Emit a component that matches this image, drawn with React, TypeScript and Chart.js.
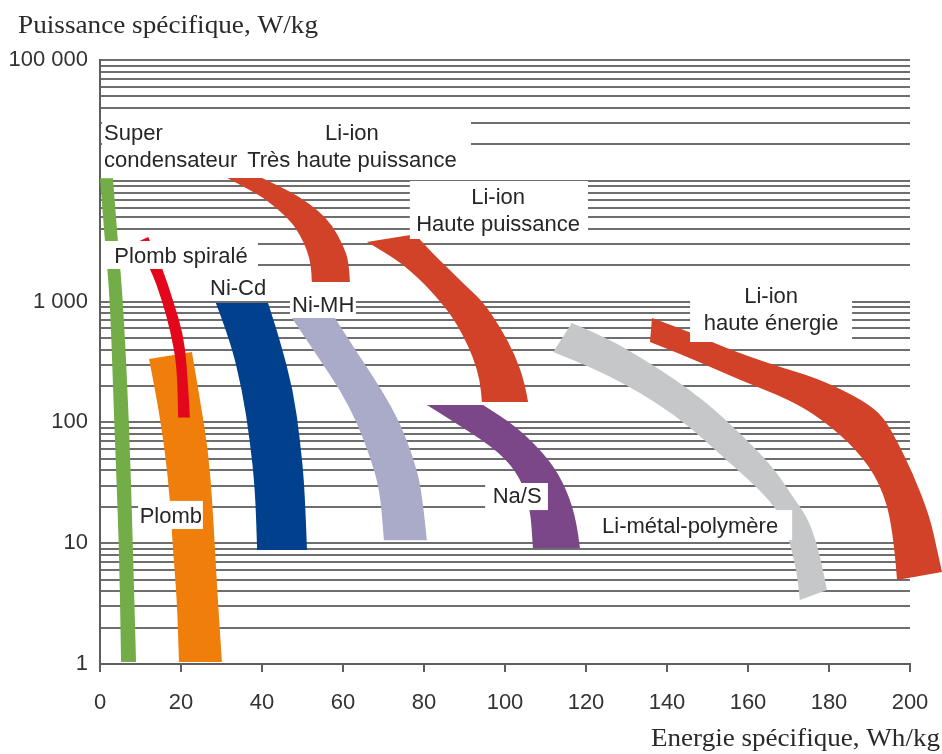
import React, { useEffect, useRef } from 'react';
import { Chart, registerables } from 'chart.js';

Chart.register(...registerables);

// ---------- axes ----------
const xTickValues = [0, 20, 40, 60, 80, 100, 120, 140, 160, 180, 200];
const yLabelValues = [1, 10, 100, 1000, 100000];
const yLabelTexts = ['1', '10', '100', '1 000', '100 000'];
const yDecades = [1, 10, 100, 1000, 10000];
const yMultipliers = [1, 2, 3, 4, 5, 6, 7, 8, 9];
const yAxisTitle = 'Puissance spécifique, W/kg';
const xAxisTitle = 'Energie spécifique, Wh/kg';

// ---------- bands: [Wh/kg, W/kg], edge A then edge B (outline order) ----------
const superCondA = [[0, 10500], [1.2, 3200], [2.5, 1000], [3.5, 100], [4.7, 10], [5.2, 1.04]];
const superCondB = [[8.9, 1.04], [8.1, 10], [7.2, 100], [5.7, 1000], [4.4, 3200], [3.2, 10500]];

const plombA = [[12.1, 335], [14.1, 153], [16.0, 59], [17.3, 22.8], [18.0, 8.8], [19.0, 3.39], [19.5, 1.04]];
const plombB = [[30.1, 1.04], [29.1, 3.39], [28.4, 8.8], [27.7, 22.8], [26.7, 59], [24.7, 153], [22.7, 383]];

const plombSpiraleA = [[9.1, 3100], [12.6, 1830], [15.3, 1030], [17.5, 550], [19.0, 290], [19.3, 110]];
const plombSpiraleB = [[22.2, 110], [21.5, 290], [20.5, 550], [18.0, 1030], [15.6, 1830], [11.9, 3430]];

const niCdA = [[28.6, 973], [32.1, 481], [35.1, 185], [37.0, 71.5], [38.3, 27.6], [38.8, 8.8]];
const niCdB = [[51.1, 8.8], [50.6, 27.6], [49.4, 71.5], [47.7, 185], [44.4, 481], [41.5, 973]];

const niMhA = [[47.4, 731], [53.8, 348], [59.3, 185], [63.5, 98.9], [66.7, 51.8], [69.1, 27.6], [70.1, 10.6]];
const niMhB = [[80.7, 10.6], [79.5, 27.6], [77.3, 51.8], [74.1, 98.9], [69.6, 185], [64.2, 348], [58.0, 731]];

const liIonTHPA = [[31.4, 10550], [37.0, 8400], [41.2, 6940], [46.9, 4730], [49.4, 3555], [51.1, 2675], [52.1, 2010], [52.3, 1452]];
const liIonTHPB = [[61.7, 1452], [61.5, 2128], [60.0, 2936], [57.3, 4305], [53.8, 5730], [49.4, 7300], [44.4, 9000], [40.0, 10550]];

const liIonHPA = [[65.9, 3115], [72.8, 2296], [78.3, 1599], [81.5, 1248], [86.4, 805], [89.6, 529], [92.1, 348], [93.8, 224], [94.3, 147.6]];
const liIonHPB = [[105.7, 147.6], [104.9, 212], [102.5, 361], [98.8, 617], [94.6, 993], [90.1, 1371], [86.4, 1827], [82.0, 2525], [77.8, 3617]];

const naSA = [[80.7, 139], [90.6, 86.5], [98.8, 55.8], [103.7, 35.3], [106.2, 19.9], [106.9, 9.12]];
const naSB = [[118.5, 9.12], [117.8, 14.7], [115.3, 27.6], [111.1, 48.9], [103.0, 91.6], [94.6, 139]];

const liMetalA = [[116.5, 665], [125.2, 500], [133.3, 348], [141.5, 233], [149.9, 145], [158.0, 81.7], [166.2, 42.8], [171.1, 24.1], [174.6, 16.5], [177.0, 10.0], [178.5, 6.0], [179.5, 4.1]];
const liMetalB = [[172.8, 3.39], [172.3, 5.25], [170.4, 10.0], [167.9, 17.8], [162.2, 29.2], [153.8, 51.7], [145.7, 91.6], [137.5, 145], [129.1, 212], [121.0, 288], [111.9, 383]];

const liIonHEA = [[136.3, 731], [145.7, 560], [153.8, 421], [166.2, 299], [177.0, 233], [186.9, 162], [192.6, 120], [195.8, 81.7], [200.7, 38.1], [204.9, 16.5], [206.7, 8.79], [207.9, 5.78]];
const liIonHEB = [[196.8, 4.96], [195.8, 13.6], [192.6, 31.5], [186.9, 59.1], [178.5, 104.7], [170.4, 153], [158.0, 224], [145.7, 341], [135.8, 463]];

// ---------- annotations (data coordinates) ----------
const labelBoxes = [
  { x0: 0.5, x1: 91.6, yTop: 38550, yBottom: 10750 },
  { x0: 76.5, x1: 120.5, yTop: 9960, yBottom: 3297 },
  { x0: 0.25, x1: 39.0, yTop: 3177, yBottom: 1862 },
  { x0: 26.7, x1: 41.5, yTop: 1725, yBottom: 1031 },
  { x0: 46.9, x1: 63.2, yTop: 1156, yBottom: 746 },
  { x0: 145.7, x1: 185.7, yTop: 1567, yBottom: 463 },
  { x0: 9.4, x1: 25.4, yTop: 22.4, yBottom: 13.1 },
  { x0: 95.1, x1: 110.6, yTop: 31.5, yBottom: 18.8 },
  { x0: 122.7, x1: 170.9, yTop: 18.8, yBottom: 10.6 },
];

const labelTexts = [
  { text: 'Super', x: 1.0, y: 21780, align: 'left' },
  { text: 'condensateur', x: 1.0, y: 13010, align: 'left' },
  { text: 'Li-ion', x: 62.2, y: 21780, align: 'center' },
  { text: 'Très haute puissance', x: 62.2, y: 13010, align: 'center' },
  { text: 'Li-ion', x: 98.3, y: 6427, align: 'center' },
  { text: 'Haute puissance', x: 98.3, y: 3837, align: 'center' },
  { text: 'Plomb spiralé', x: 20.0, y: 2088, align: 'center' },
  { text: 'Ni-Cd', x: 34.1, y: 1135, align: 'center' },
  { text: 'Ni-MH', x: 55.1, y: 820, align: 'center' },
  { text: 'Li-ion', x: 165.7, y: 973, align: 'center' },
  { text: 'haute énergie', x: 165.7, y: 582, align: 'center' },
  { text: 'Plomb', x: 17.5, y: 14.7, align: 'center' },
  { text: 'Na/S', x: 103.0, y: 21.5, align: 'center' },
  { text: 'Li-métal-polymère', x: 145.7, y: 12.1, align: 'center' },
];

const SANS = '"Liberation Sans", Arial, sans-serif';
const SERIF = '"Liberation Serif", "Times New Roman", serif';

const gridValues: number[] = [];
yDecades.forEach((d) => yMultipliers.forEach((m) => gridValues.push(d * m)));
gridValues.push(100000);

function band(label: string, a: number[][], b: number[][], color: string) {
  return {
    label,
    data: [...a, ...b].map(([x, y]) => ({ x, y })),
    splitAt: a.length,
    backgroundColor: color,
    borderColor: color,
    pointRadius: 0,
    showLine: false,
  };
}

const datasets = [
  band('Super condensateur', superCondA, superCondB, '#72ad47'),
  band('Plomb', plombA, plombB, '#ef7f0a'),
  band('Plomb spiralé', plombSpiraleA, plombSpiraleB, '#e2071b'),
  band('Ni-Cd', niCdA, niCdB, '#00408d'),
  band('Ni-MH', niMhA, niMhB, '#aaaac9'),
  band('Li-ion Très haute puissance', liIonTHPA, liIonTHPB, '#d14228'),
  band('Li-ion Haute puissance', liIonHPA, liIonHPB, '#d14228'),
  band('Na/S', naSA, naSB, '#7b4788'),
  band('Li-métal-polymère', liMetalA, liMetalB, '#c6c7c9'),
  band('Li-ion haute énergie', liIonHEA, liIonHEB, '#d14228'),
];

function smoothEdge(ctx: CanvasRenderingContext2D, pts: number[][], first: boolean) {
  if (first) ctx.moveTo(pts[0][0], pts[0][1]);
  else ctx.lineTo(pts[0][0], pts[0][1]);
  for (let i = 1; i < pts.length - 1; i++) {
    const mx = (pts[i][0] + pts[i + 1][0]) / 2;
    const my = (pts[i][1] + pts[i + 1][1]) / 2;
    ctx.quadraticCurveTo(pts[i][0], pts[i][1], mx, my);
  }
  const last = pts[pts.length - 1];
  ctx.lineTo(last[0], last[1]);
}

const bandPlugin = {
  id: 'ragoneBands',
  afterDatasetsDraw(chart: any) {
    const { ctx } = chart;
    const xs = chart.scales.x;
    const ys = chart.scales.y;
    ctx.save();
    chart.data.datasets.forEach((ds: any) => {
      const px = ds.data.map((p: any) => [xs.getPixelForValue(p.x), ys.getPixelForValue(p.y)]);
      const a = px.slice(0, ds.splitAt);
      const b = px.slice(ds.splitAt);
      ctx.beginPath();
      smoothEdge(ctx, a, true);
      smoothEdge(ctx, b, false);
      ctx.closePath();
      ctx.fillStyle = ds.backgroundColor;
      ctx.fill();
    });
    ctx.fillStyle = '#ffffff';
    labelBoxes.forEach((bx) => {
      const x0 = xs.getPixelForValue(bx.x0);
      const x1 = xs.getPixelForValue(bx.x1);
      const y0 = ys.getPixelForValue(bx.yTop);
      const y1 = ys.getPixelForValue(bx.yBottom);
      ctx.fillRect(x0, y0, x1 - x0, y1 - y0);
    });
    ctx.fillStyle = '#262626';
    ctx.font = `22px ${SANS}`;
    ctx.textBaseline = 'alphabetic';
    labelTexts.forEach((t) => {
      ctx.textAlign = t.align;
      ctx.fillText(t.text, xs.getPixelForValue(t.x), ys.getPixelForValue(t.y));
    });
    ctx.restore();
  },
};

function drawFitted(ctx: CanvasRenderingContext2D, text: string, x: number, y: number, width: number) {
  ctx.save();
  ctx.font = `26px ${SERIF}`;
  ctx.textAlign = 'left';
  ctx.textBaseline = 'alphabetic';
  ctx.fillStyle = '#2a2a2a';
  const w = ctx.measureText(text).width;
  ctx.translate(x, y);
  ctx.scale(width / w, 1);
  ctx.fillText(text, 0, 0);
  ctx.restore();
}

const titlePlugin = {
  id: 'axisTitles',
  afterDraw(chart: any) {
    const { ctx, chartArea } = chart;
    drawFitted(ctx, yAxisTitle, chartArea.left - 82, chartArea.top - 27, 300);
    drawFitted(ctx, xAxisTitle, chartArea.right - 259, chartArea.bottom + 82, 289);
  },
};

export default function App() {
  const ref = useRef<HTMLCanvasElement>(null);
  useEffect(() => {
    const canvas = ref.current;
    if (!canvas) return;
    const chart = new Chart(canvas, {
      type: 'scatter',
      data: { datasets: datasets as any },
      options: {
        responsive: false,
        devicePixelRatio: 1,
        animation: false,
        events: [],
        layout: { padding: { left: 0, right: 32, top: 60, bottom: 0 } },
        plugins: { legend: { display: false }, tooltip: { enabled: false } },
        elements: { point: { radius: 0 } },
        scales: {
          x: {
            type: 'linear',
            min: 0,
            max: 200,
            afterBuildTicks: (s: any) => {
              s.ticks = xTickValues.map((v) => ({ value: v }));
            },
            afterFit: (s: any) => {
              s.height = 90;
              s.paddingLeft = 0;
              s.paddingRight = 0;
            },
            grid: { drawOnChartArea: false, drawTicks: true, tickLength: 8, color: '#5e5e5e', lineWidth: 2 },
            border: { display: true, color: '#5e5e5e', width: 2 },
            ticks: {
              color: '#333333',
              font: { family: SANS, size: 22 },
              padding: 18,
              autoSkip: false,
              maxRotation: 0,
              callback: (v: any) => String(v),
            },
          },
          y: {
            type: 'logarithmic',
            min: 1,
            max: 100000,
            afterBuildTicks: (s: any) => {
              s.ticks = gridValues.map((v) => ({ value: v }));
            },
            afterFit: (s: any) => {
              s.width = 100;
              s.paddingTop = 0;
              s.paddingBottom = 0;
            },
            grid: { color: '#6e6e6e', lineWidth: 2, drawTicks: false },
            border: { display: true, color: '#5e5e5e', width: 2 },
            ticks: {
              color: '#333333',
              font: { family: SANS, size: 22 },
              padding: 12,
              autoSkip: false,
              callback: (v: any) => {
                const i = yLabelValues.indexOf(Number(v));
                return i >= 0 ? yLabelTexts[i] : '';
              },
            },
          },
        },
      } as any,
      plugins: [bandPlugin, titlePlugin],
    });
    return () => chart.destroy();
  }, []);
  return (
    <canvas
      ref={ref}
      width={942}
      height={754}
      style={{ position: 'absolute', left: 0, top: 0, display: 'block', background: '#ffffff' }}
    />
  );
}
